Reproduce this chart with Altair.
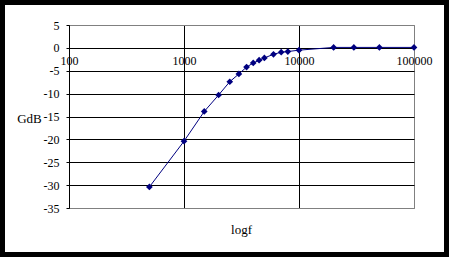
import altair as alt
import pandas as pd

freq = [500, 1000, 1500, 2000, 2500, 3000, 3500, 4000, 4500, 5000, 6000, 7000, 8000,
        10000, 20000, 30000, 50000, 100000]
gdb = [-30.4, -20.4, -13.9, -10.3, -7.4, -5.7, -4.2, -3.3, -2.7, -2.2, -1.4, -0.95, -0.8,
       -0.5, 0.1, 0.1, 0.1, 0.1]
y_ticks = [-35, -30, -25, -20, -15, -10, -5, 0, 5]
x_ticks = [100, 1000, 10000, 100000]

df = pd.DataFrame({"f": freq, "g": gdb})
FONT = "Liberation Serif"

x_scale = alt.Scale(type="log", domain=[100, 100000], nice=False)
y_scale = alt.Scale(domain=[-35, 5], nice=False, zero=False)

x_enc = alt.X("f:Q", scale=x_scale, title="logf",
              axis=alt.Axis(values=x_ticks, labelExpr="datum.value + ''", offset=-160, ticks=False,
                            domainColor="black", grid=True,
                            gridColor={"condition": {"test": "datum.value == 100000", "value": "#808080"}, "value": "black"},
                            labelFont=FONT, labelFontSize=12, labelColor="black", labelPadding=7,
                            labelBaseline="top", labelFlush=False, labelOverlap=False,
                            titleFont=FONT, titleFontSize=13, titleFontWeight="normal", titleColor="black",
                            titleX=172, titleY=181.5, titleAlign="center", titleBaseline="middle"))
y_enc = alt.Y("g:Q", scale=y_scale, title="GdB",
              axis=alt.Axis(values=y_ticks, labelExpr="datum.value + ''", tickSize=3, tickColor="black",
                            domainColor="black", grid=True,
                            gridColor={"condition": {"test": "datum.value == 5 || datum.value == -35", "value": "#808080"}, "value": "black"},
                            labelFont=FONT, labelFontSize=12, labelColor="black", labelPadding=7,
                            labelFlush=False, labelOverlap=False,
                            titleFont=FONT, titleFontSize=13, titleFontWeight="normal", titleColor="black",
                            titleAngle=0, titleX=-40, titleY=93, titleAlign="center", titleBaseline="middle"))

base = alt.Chart(df).encode(x=x_enc, y=y_enc)
line = base.mark_line(color="#000080", strokeWidth=1)
pts = base.mark_point(shape="diamond", filled=True, color="#000080", size=45, opacity=1)
frame = alt.Chart(df).mark_rect(fill="white", fillOpacity=0, stroke="black", strokeWidth=5).encode(
    x=alt.value(-66.5), x2=alt.value(377.5), y=alt.value(-22.5), y2=alt.value(229.5))

chart = alt.layer(line, pts, frame).properties(
    width=345, height=183,
    autosize=alt.AutoSizeParams(type="none"),
    padding={"left": 69, "top": 25, "right": 35, "bottom": 49},
    background="white",
).configure_view(stroke="#808080", strokeWidth=1)

chart.save("out.html", embed_options={"renderer": "svg", "actions": False})
